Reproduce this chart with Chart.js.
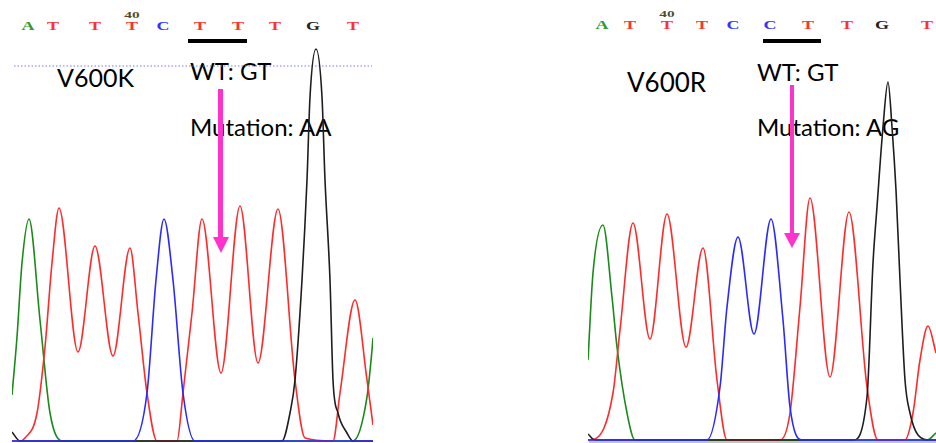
<!DOCTYPE html>
<html><head><meta charset="utf-8">
<script src="https://cdn.jsdelivr.net/npm/chart.js@4/dist/chart.umd.min.js"></script>
<style>
html,body{margin:0;padding:0;background:#fff;width:936px;height:443px;overflow:hidden;position:relative}
canvas{position:absolute;top:0;z-index:2}
.lbl{position:absolute;font-family:Lato,sans-serif;color:#000;line-height:1;white-space:nowrap;z-index:1}
.base{position:absolute;font-family:"Liberation Serif",serif;font-weight:bold;font-size:12px;line-height:1;transform:translate(-50%,-50%) scaleX(1.5);z-index:1}
.num{position:absolute;font-family:"Liberation Serif",serif;font-weight:bold;font-size:9px;line-height:1;color:#4f4f30;transform:translate(-50%,-50%) scaleX(1.7);z-index:1}
.bar{position:absolute;background:#000;z-index:3}
.shaft{position:absolute;background:#ff33cc;z-index:3}
.head{position:absolute;width:0;height:0;border-left:8px solid transparent;border-right:8px solid transparent;border-top:16px solid #ff33cc;z-index:3}
</style></head><body>
<canvas id="left" width="361" height="443" style="left:12px"></canvas>
<canvas id="right" width="348" height="443" style="left:588px"></canvas>

<div class="lbl" style="left:57px;top:64.5px;font-size:25px">V600K</div>
<div class="lbl" style="left:190px;top:58.7px;font-size:24px">WT: GT</div>
<div class="lbl" style="left:190px;top:115.4px;font-size:24px">Mutation: AA</div>
<div class="lbl" style="left:627px;top:68.6px;font-size:26px">V600R</div>
<div class="lbl" style="left:757px;top:59.7px;font-size:24px">WT: GT</div>
<div class="lbl" style="left:757px;top:115.4px;font-size:24px">Mutation: AG</div>

<div class="bar" style="left:188px;top:38.5px;width:59px;height:4px"></div>
<div class="bar" style="left:763px;top:38.5px;width:58px;height:4px"></div>
<div class="shaft" style="left:218.3px;top:89px;width:4.5px;height:149px"></div>
<div class="head" style="left:213px;top:237px"></div>
<div class="shaft" style="left:789.7px;top:84.5px;width:4.5px;height:149.5px"></div>
<div class="head" style="left:784px;top:233px;border-top-width:15px"></div>

<script>
// ---------- Left panel: V600K (scan position vs. signal intensity) ----------
const leftBases   = ["A","T","T","T","C","T","T","T","G","T"];
const leftBasePos = [16, 41, 83, 120, 151, 188, 226, 263, 301, 341];
const leftBaseNumber = "40";        // label above 4th base
const leftBaseNumberIdx = 3;

const leftBlueX  = [0, 121, 135, 144, 152, 161, 171, 183, 361];
const leftBlueY  = [0, 0, 48, 161, 222, 161, 48, 0, 0];
const leftBlackX = [0, 8, 270, 278, 283, 290, 295, 298, 304, 310, 313, 318, 321, 326, 335, 341, 361];
const leftBlackY = [9, 0, 0, 28, 61, 161, 261, 344, 392, 344, 261, 161, 61, 28, 8, 0, 0];
const leftRedX   = [0, 8, 13, 25, 33, 40, 47, 66, 83, 101, 118, 126, 135, 145, 165, 171, 180, 190, 209, 228, 246, 266, 283, 293, 321, 328, 343, 355, 361];
const leftRedY   = [0, 0, 3, 28, 94, 178, 233, 89, 195, 85, 193, 128, 48, 0, 0, 48, 128, 222, 68, 235, 78, 232, 61, 3, 0, 48, 141, 61, 16];
const leftGreenX = [0, 5, 10, 17, 28, 38, 51, 341, 355, 360, 361];
const leftGreenY = [46, 104, 178, 222, 121, 28, 0, 0, 44, 91, 103];
const leftThresholdX = [2, 360];
const leftThresholdY = [375, 375];

// ---------- Right panel: V600R ----------
const rightBases   = ["A","T","T","T","C","C","T","T","G","T"];
const rightBasePos = [14, 42, 79, 114, 145, 182, 220, 259, 294, 339];
const rightBaseNumber = "40";
const rightBaseNumberIdx = 2;

const rightBlueX  = [0, 119, 132, 139, 150, 166, 183, 195, 202, 214, 348];
const rightBlueY  = [0, 0, 53, 133, 203, 106, 221, 120, 33, 0, 0];
const rightBlackX = [0, 7, 265, 279, 285, 289, 295, 300, 304, 308, 312, 317, 322, 330, 342, 348];
const rightBlackY = [6, 0, 0, 43, 177, 233, 313, 358, 313, 250, 160, 60, 27, 5, 0, 0];
const rightRedX   = [0, 7, 25, 32, 45, 62, 79, 98, 115, 129, 139, 192, 202, 212, 222, 242, 261, 279, 290, 317, 325, 332, 340, 348];
const rightRedY   = [0, 1, 47, 110, 217, 101, 226, 93, 192, 60, 0, 0, 27, 133, 242, 63, 228, 53, 0, 0, 27, 80, 114, 87];
const rightGreenX = [0, 5, 15, 24, 29, 39, 47, 339, 348];
const rightGreenY = [80, 167, 215, 143, 93, 27, 0, 0, 7];
const rightAxisX  = [1, 348];
const rightAxisY  = [-2, -2];

const baseColors = {A:"#2f9a2f", T:"#ff3030", C:"#3333ff", G:"#222222"};
const traceColors = {blue:"#2a2aff", black:"#1e1e1e", red:"#ff2a2a", green:"#1a8a1a"};

function pts(xs, ys){ return xs.map((x,i)=>({x:x, y:ys[i]})); }
function trace(xs, ys, color, extra){
  return Object.assign({data:pts(xs,ys), borderColor:color, borderWidth:1.6,
    cubicInterpolationMode:'monotone', pointRadius:0, fill:false}, extra||{});
}

function makeChart(id, xmax, ymin, ymax, datasets){
  return new Chart(document.getElementById(id), {
    type:'line',
    data:{datasets:datasets},
    options:{
      responsive:false, animation:false, devicePixelRatio:1,
      layout:{padding:0},
      plugins:{legend:{display:false}, tooltip:{enabled:false}},
      elements:{point:{radius:0}},
      scales:{
        x:{type:'linear', min:0, max:xmax, display:false},
        y:{type:'linear', min:ymin, max:ymax, display:false}
      }
    }
  });
}

const leftChart = makeChart('left', 361, -2, 441, [
  trace(leftBlueX, leftBlueY, traceColors.blue),
  trace(leftBlackX, leftBlackY, traceColors.black),
  trace(leftRedX, leftRedY, traceColors.red),
  trace(leftGreenX, leftGreenY, traceColors.green),
  trace(leftThresholdX, leftThresholdY, "#7878ff", {borderWidth:1.2, borderDash:[1.5,2], cubicInterpolationMode:'default', tension:0})
]);

const rightChart = makeChart('right', 348, -3, 440, [
  trace(rightBlueX, rightBlueY, traceColors.blue),
  trace(rightBlackX, rightBlackY, traceColors.black),
  trace(rightRedX, rightRedY, traceColors.red),
  trace(rightGreenX, rightGreenY, traceColors.green),
  trace(rightAxisX, rightAxisY, "#b0b0b0", {cubicInterpolationMode:'default', tension:0})
]);

function addBases(chart, offsetLeft, bases, pos, yc, numText, numIdx, numY){
  bases.forEach((b,i)=>{
    const s = document.createElement('span');
    s.className = 'base';
    s.textContent = b;
    s.style.color = baseColors[b];
    s.style.left = (offsetLeft + chart.scales.x.getPixelForValue(pos[i])) + 'px';
    s.style.top = yc + 'px';
    document.body.appendChild(s);
  });
  const n = document.createElement('span');
  n.className = 'num';
  n.textContent = numText;
  n.style.left = (offsetLeft + chart.scales.x.getPixelForValue(pos[numIdx])) + 'px';
  n.style.top = numY + 'px';
  document.body.appendChild(n);
}
addBases(leftChart, 12, leftBases, leftBasePos, 26, leftBaseNumber, leftBaseNumberIdx, 15);
addBases(rightChart, 588, rightBases, rightBasePos, 25, rightBaseNumber, rightBaseNumberIdx, 14);
</script>
</body></html>
